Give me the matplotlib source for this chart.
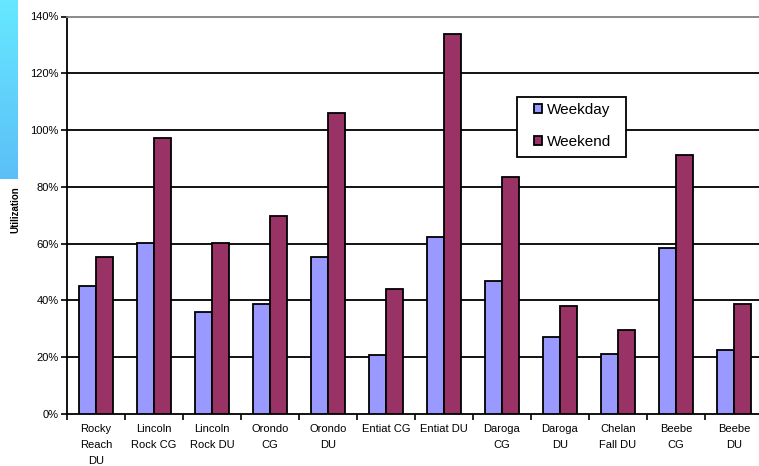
import numpy as np
import matplotlib
matplotlib.use("Agg")
import matplotlib.pyplot as plt
from matplotlib.patches import Rectangle
from matplotlib.ticker import PercentFormatter

sites = ["Rocky\nReach\nDU", "Lincoln\nRock CG", "Lincoln\nRock DU", "Orondo\nCG",
         "Orondo\nDU", "Entiat CG", "Entiat DU", "Daroga\nCG", "Daroga\nDU",
         "Chelan\nFall DU", "Beebe\nCG", "Beebe\nDU"]
weekday = [45, 60.3, 35.8, 38.6, 55.4, 20.8, 62.4, 46.9, 27.2, 21.0, 58.3, 22.4]
weekend = [55.4, 97.1, 60.3, 69.6, 106.1, 44.1, 133.7, 83.6, 37.9, 29.5, 91.3, 38.6]
yticks = [0, 20, 40, 60, 80, 100, 120, 140]

plt.rcParams["font.family"] = ["Liberation Sans", "DejaVu Sans"]

W, H = 759, 466
fig = plt.figure(figsize=(W / 100, H / 100), dpi=100)

# cyan strip in the top left corner
grad = fig.add_axes([0, 1 - 179 / H, 18 / W, 179 / H])
g = np.linspace(0, 1, 100).reshape(-1, 1)
grad.imshow(np.dstack([0.40 - 0.04 * g, 0.91 - 0.16 * g, 1.0 - 0.03 * g]),
            aspect="auto", extent=[0, 1, 0, 1])
grad.axis("off")

ax = fig.add_axes([67 / W, 1 - 414 / H, 696 / W, (414 - 16.5) / H])
x = np.arange(len(sites))
bw = 0.293
ax.bar(x - bw / 2, weekday, bw, color="#9999FF", edgecolor="black", linewidth=1.3,
       label="Weekday", zorder=3)
ax.bar(x + bw / 2, weekend, bw, color="#993366", edgecolor="black", linewidth=1.3,
       label="Weekend", zorder=3)

ax.set_xlim(-0.5, len(sites) - 0.5)
ax.set_ylim(0, 140)
ax.set_yticks(yticks)
ax.yaxis.set_major_formatter(PercentFormatter(decimals=0))
ax.set_xticks(x)
ax.set_xticklabels(sites, fontsize=8, linespacing=1.75)
ax.set_xticks(np.arange(len(sites) + 1) - 0.5, minor=True)
ax.tick_params(axis="x", which="major", length=0, pad=7)
ax.tick_params(axis="x", which="minor", length=4, width=1.2, direction="out")
ax.tick_params(axis="y", length=4, width=1.2, labelsize=8, pad=2)

for v in yticks[1:-1]:
    ax.axhline(v, color="black", linewidth=1.3, zorder=1)
ax.spines["top"].set_color("#808080")
ax.spines["top"].set_linewidth(1.3)
ax.spines["right"].set_visible(False)
ax.spines["left"].set_linewidth(1.3)
ax.spines["bottom"].set_linewidth(1.3)

fig.text(15 / W, 1 - 210 / H, "Utilization", rotation=90, fontsize=7,
         fontweight="bold", ha="center", va="center")

# legend: white box drawn by hand, entries placed inside it
fig.patches.append(Rectangle((517 / W, 1 - 157 / H), 109 / W, 60 / H,
                             transform=fig.transFigure, facecolor="white",
                             edgecolor="black", linewidth=1.3, zorder=4))
leg = fig.legend(loc="center left", bbox_to_anchor=(534 / W, 1 - 126 / H),
                 fontsize=11, frameon=False, handlelength=0.55, handleheight=0.55,
                 handletextpad=0.3, borderpad=0, labelspacing=1.2, borderaxespad=0)
leg.set_zorder(5)

fig.savefig("out.png", dpi=100)
